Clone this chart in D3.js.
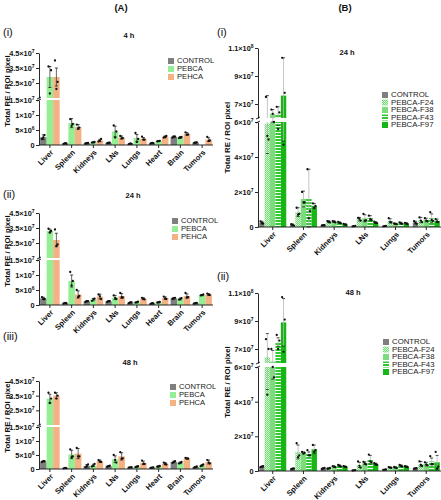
<!DOCTYPE html>
<html><head><meta charset="utf-8">
<script src="https://cdn.jsdelivr.net/npm/d3@7"></script>
<style>
body{margin:0;background:#fff;}
svg{display:block;font-family:"Liberation Sans",Arial,sans-serif;}
</style></head>
<body><svg id="chart" width="441" height="500"></svg>
<script>
// ---------------- DATA (values in units of 1e6) ----------------
const catsA = ["Liver","Spleen","Kidneys","LNs","Lungs","Heart","Brain","Tumors"];
const seriesA = ["CONTROL","PEBCA","PEHCA"];
const catsB = ["Liver","Spleen","Kidneys","LNs","Lungs","Tumors"];
const seriesB = ["CONTROL","PEBCA-F24","PEBCA-F38","PEBCA-F43","PEBCA-F97"];
const ticksA_low = [0,5,10,15];
const ticksA_up = [25,35,45];
const ticksB_low = [0,20,40,60];
const ticksB_up = [70,90,110];

// A (i) 4 h
const a4_CONTROL = [2.6,0.5,0.6,0.7,0.4,0.6,2.7,0.8];
const a4_PEBCA   = [29,7.3,0.9,4.5,2.3,1.3,2.5,0];
const a4_PEHCA   = [29,6.0,1.5,2.5,2.1,2.7,3.7,1.8];
const a4_CONTROL_sd = [0.8,0.1,0.2,0.2,0.1,0.1,0.3,0.2];
const a4_PEBCA_sd   = [7,1.5,0.2,1.8,1.2,0.2,0.3,0];
const a4_PEHCA_sd   = [6,0.8,0.4,0.5,0.4,0.3,0.4,0.6];
const a4_CONTROL_pts = [[2.0,3.3,2.5],[0.4,0.5,0.6],[0.5,0.7,0.6],[0.6,0.8,0.7],[0.3,0.4,0.5],[0.5,0.6,0.7],[2.5,2.8,2.8],[0.7,0.9,0.8]];
const a4_PEBCA_pts   = [[36,33.5,18],[8.6,7.0,6.4],[0.8,1.0,0.9],[6.5,4.5,2.5],[4.0,2.0,1.0],[1.2,1.4,1.3],[2.3,2.7,2.5],[]];
const a4_PEHCA_pts   = [[40,25.7,21],[6.8,5.8,5.5],[1.2,2.0,1.4],[3.0,2.3,2.2],[2.8,1.8,1.8],[2.5,3.0,2.7],[4.2,3.5,3.4],[2.7,1.5,1.3]];

// A (ii) 24 h
const a24_CONTROL = [2.2,0.6,1.2,1.2,0.8,0.5,2.2,0.6];
const a24_PEBCA   = [33,8.0,1.8,2.5,0.9,0.9,2.0,3.3];
const a24_PEHCA   = [27,3.5,2.8,3.0,2.1,2.3,3.0,3.5];
const a24_CONTROL_sd = [0.4,0.1,0.2,0.2,0.2,0.1,0.3,0.1];
const a24_PEBCA_sd   = [1.2,2.0,0.4,0.7,0.2,0.2,0.3,0.2];
const a24_PEHCA_sd   = [4.5,1.2,0.8,0.8,0.3,0.4,0.7,0.3];
const a24_CONTROL_pts = [[2.6,2.0,2.0],[0.5,0.6,0.7],[1.0,1.3,1.3],[1.0,1.3,1.3],[0.6,0.9,0.9],[0.4,0.5,0.6],[2.0,2.4,2.3],[0.5,0.7,0.6]];
const a24_PEBCA_pts   = [[34.5,33,32],[11,8,6.5],[1.4,2.1,1.9],[3.2,2.0,2.3],[0.8,1.1,0.9],[0.8,1.0,0.9],[1.8,2.3,2.0],[3.2,3.5,3.3]];
const a24_PEHCA_pts   = [[34,24,23],[5,3,2.6],[3.5,2.0,2.9],[4.0,2.5,2.6],[2.4,1.9,2.0],[2.8,2.0,2.2],[4.0,2.6,2.5],[3.8,3.3,3.4]];

// A (iii) 48 h
const a48_CONTROL = [2.7,0.3,1.1,1.0,0.6,0.5,2.5,0.7];
const a48_PEBCA   = [33,5.2,1.3,3.5,0.8,0.9,2.2,1.3];
const a48_PEHCA   = [35,5.5,2.8,4.5,2.2,1.9,3.8,2.5];
const a48_CONTROL_sd = [0.2,0.1,0.5,0.2,0.1,0.1,0.3,0.2];
const a48_PEBCA_sd   = [3,1.5,0.4,1.2,0.2,0.2,0.3,0.3];
const a48_PEHCA_sd   = [2,1.8,0.4,1.3,0.6,0.4,0.2,0.7];
const a48_CONTROL_pts = [[2.5,2.8,2.8],[0.2,0.3,0.4],[0.6,1.6,1.1],[0.8,1.2,1.0],[0.5,0.7,0.6],[0.4,0.6,0.5],[2.2,2.8,2.5],[0.5,0.9,0.7]];
const a48_PEBCA_pts   = [[37,33,30],[7,4.5,4.2],[0.9,1.8,1.2],[5.0,2.3,3.2],[0.7,1.0,0.8],[0.8,1.1,0.9],[2.0,2.5,2.2],[1.0,1.6,1.3]];
const a48_PEHCA_pts   = [[37,35,33],[7.5,4.5,4.5],[3.2,2.5,2.7],[6.0,3.8,3.7],[3.0,1.8,1.8],[2.3,1.6,1.8],[4.0,3.7,3.7],[3.2,2.0,2.3]];

// B (i) 24 h
const b24_CONTROL = [2.5,1.2,1.0,0.5,0.5,2.5];
const b24_F24 = [59,8.5,3.0,4.5,3.5,4.0];
const b24_F38 = [63,16,3.0,5.0,1.8,4.0];
const b24_F43 = [63,16,2.5,5.0,2.2,5.0];
const b24_F97 = [76,12,1.5,2.5,2.0,3.5];
const b24_CONTROL_sd = [0.8,0.5,0.2,0.1,0.1,0.8];
const b24_F24_sd = [17,2.5,0.5,1.0,1.2,1.5];
const b24_F38_sd = [3,4.5,0.4,2.0,0.3,1.0];
const b24_F43_sd = [5,17,0.4,1.5,0.5,2.5];
const b24_F97_sd = [27,1.5,0.3,0.5,0.4,1.0];
const b24_CONTROL_pts = [[3.2,2.0,2.3],[1.6,0.8,1.2],[0.9,1.1,1.0],[0.4,0.6,0.5],[0.4,0.6,0.5],[3.3,1.8,2.4]];
const b24_F24_pts = [[75,50,52],[11,7.5,7],[3.4,2.6,3.0],[5.2,3.6,4.7],[5.0,2.6,2.9],[5.5,2.8,3.7]];
const b24_F38_pts = [[66,60,63],[20,14,14],[3.3,2.6,3.1],[7.5,3.8,3.7],[2.0,1.6,1.8],[5.0,3.3,3.7]];
const b24_F43_pts = [[68,64,56],[33,9,5],[2.9,2.2,2.4],[6.5,4.0,4.5],[2.7,1.8,2.1],[8.5,3.5,4.0]];
const b24_F97_pts = [[103,78,47],[13.5,12,11],[1.8,1.3,1.4],[3.0,2.2,2.3],[2.4,1.7,1.9],[4.5,2.8,3.2]];

// B (ii) 48 h
const b48_CONTROL = [2.5,1.3,1.5,0.4,0.8,1.5];
const b48_F24 = [64,11,1.5,3.5,2.0,4.0];
const b48_F38 = [61,10.5,2.5,4.5,2.0,4.0];
const b48_F43 = [75,10,3.0,6.5,3.0,5.5];
const b48_F97 = [89,12.5,2.5,4.0,2.5,5.0];
const b48_CONTROL_sd = [0.3,0.2,0.3,0.1,0.1,0.2];
const b48_F24_sd = [17,4,0.3,1.5,0.3,1.5];
const b48_F38_sd = [8,0.5,0.3,0.8,0.3,1.0];
const b48_F43_sd = [3,1.0,0.5,2.5,0.5,2.0];
const b48_F97_sd = [17,2.5,0.3,0.5,0.3,4.0];
const b48_CONTROL_pts = [[2.2,2.8,2.5],[1.1,1.5,1.3],[1.2,1.8,1.5],[0.3,0.5,0.4],[0.7,0.9,0.8],[1.3,1.7,1.5]];
const b48_F24_pts = [[77,70,44],[16,9,8],[1.3,1.8,1.4],[5.5,2.0,3.0],[2.2,1.8,2.0],[5.5,3.0,3.5]];
const b48_F38_pts = [[70,54,60],[11,10.5,10],[2.8,2.2,2.5],[5.3,3.8,4.4],[2.3,1.8,1.9],[5.0,3.2,3.8]];
const b48_F43_pts = [[80,76,70],[12,9,9],[3.5,2.6,2.9],[9.5,5.0,5.5],[3.5,2.6,2.9],[8.5,4.0,4.0]];
const b48_F97_pts = [[107,91,68],[15,12,11],[2.8,2.2,2.5],[4.5,3.6,3.9],[2.8,2.2,2.5],[11,2.5,1.5]];

// ---------------- DRAWING ----------------
const svg = d3.select("#chart");
const defs = svg.append("defs");
// checker pattern (F24)
const p1 = defs.append("pattern").attr("id","chk").attr("patternUnits","userSpaceOnUse").attr("width",2).attr("height",2);
p1.append("rect").attr("width",2).attr("height",2).attr("fill","#6fdc6f");
p1.append("rect").attr("width",1).attr("height",1).attr("fill","#e8fbe8");
p1.append("rect").attr("x",1).attr("y",1).attr("width",1).attr("height",1).attr("fill","#c8f3c8");
// stripe pattern (F43)
const p2 = defs.append("pattern").attr("id","strp").attr("patternUnits","userSpaceOnUse").attr("width",4).attr("height",3);
p2.append("rect").attr("width",4).attr("height",3).attr("fill","#2fc82f");
p2.append("rect").attr("y",0).attr("width",4).attr("height",1).attr("fill","#ffffff");

const fillsA = ["#7f7f7f","#94ef94","#f4b183"];
const fillsB = ["#7f7f7f","url(#chk)","#7cdb7c","url(#strp)","#16b616"];
const legendFillsB = ["#7f7f7f","url(#chk)","#7cdb7c","url(#strp)","#16b616"];

function fmtTicks(g){
  g.selectAll(".tick text").each(function(d){
    const t = d3.select(this); t.text(null);
    if (d === 0) { t.text("0"); return; }
    const v = d * 1e6;
    const e = Math.floor(Math.log10(v) + 1e-9);
    const m = +(v / Math.pow(10, e)).toFixed(2);
    t.append("tspan").text(m + "×10");
    t.append("tspan").attr("dy", -3.2).attr("font-size", 5).text(e);
  });
}

function panel(o){
  const g = svg.append("g");
  const x = d3.scaleBand().domain(o.cats).range(o.xr).paddingInner(o.pi).paddingOuter(o.po);
  const xs = d3.scaleBand().domain(o.series).range([0, x.bandwidth()]);
  const yL = d3.scaleLinear().domain([0, o.brk]).range([o.y0, o.yb1]);
  const yU = d3.scaleLinear().domain([o.brk, o.top]).range([o.yb2, o.yT]);
  const yv = v => v <= o.brk ? yL(v) : yU(v);

  const data = [];
  o.series.forEach((s, si) => o.cats.forEach((c, ci) => {
    data.push({s, si, c, v: o.means[si][ci], sd: o.sds[si][ci], pts: o.pts[si][ci]});
  }));
  const bars = data.filter(d => d.v > 0);

  // lower bar parts
  g.append("g").selectAll("rect").data(bars).join("rect")
    .attr("x", d => x(d.c) + xs(d.s)).attr("width", xs.bandwidth())
    .attr("y", d => yL(Math.min(d.v, o.brk)))
    .attr("height", d => o.y0 - yL(Math.min(d.v, o.brk)))
    .attr("fill", d => o.fills[d.si]);
  // upper bar parts
  g.append("g").selectAll("rect").data(bars.filter(d => d.v > o.brk)).join("rect")
    .attr("x", d => x(d.c) + xs(d.s)).attr("width", xs.bandwidth())
    .attr("y", d => yU(d.v)).attr("height", d => o.yb2 - yU(d.v))
    .attr("fill", d => o.fills[d.si]);

  // error bars
  const eg = g.append("g");
  bars.filter(d => d.sd > 0).forEach(d => {
    const cx = x(d.c) + xs(d.s) + xs.bandwidth()/2;
    const lo = Math.max(0, d.v - d.sd), hi = d.v + d.sd;
    const segs = (lo < o.brk && hi > o.brk) ? [[yv(lo), yL(o.brk)], [yU(o.brk), yv(hi)]] : [[yv(lo), yv(hi)]];
    segs.forEach(sg => eg.append("line").attr("x1", cx).attr("x2", cx).attr("y1", sg[0]).attr("y2", sg[1])
      .attr("stroke", o.errColor).attr("stroke-width", 0.8));
    [lo, hi].forEach(v => eg.append("line").attr("x1", cx - 1.5).attr("x2", cx + 1.5)
      .attr("y1", yv(v)).attr("y2", yv(v)).attr("stroke", "#222").attr("stroke-width", 0.8));
  });

  // points
  const pg = g.append("g");
  const offs = [-1.4, 1.2, 0, -0.6];
  data.forEach(d => (d.pts || []).forEach((p, i) => {
    const cx = x(d.c) + xs(d.s) + xs.bandwidth()/2 + offs[i % offs.length];
    pg.append("circle").attr("cx", cx).attr("cy", yv(p)).attr("r", 1.15).attr("fill", "#111");
  }));

  // axes
  const axL = g.append("g").attr("transform", `translate(${o.xr[0]},0)`)
    .call(d3.axisLeft(yL).tickValues(o.ticksL).tickSize(3).tickSizeOuter(0).tickPadding(1.5));
  const axU = g.append("g").attr("transform", `translate(${o.xr[0]},0)`)
    .call(d3.axisLeft(yU).tickValues(o.ticksU).tickSize(3).tickSizeOuter(0).tickPadding(1.5));
  [axL, axU].forEach(a => {
    a.selectAll("text").attr("font-size", 7.3).attr("font-weight", "bold").attr("fill", "#111").attr("font-family", "Liberation Sans, Arial, sans-serif");
    a.selectAll("line,path").attr("stroke", "#111").attr("stroke-width", 0.9);
    fmtTicks(a);
  });
  // break marks on axis
  [o.yb1, o.yb2].forEach(yy => g.append("line").attr("x1", o.xr[0] - 2).attr("x2", o.xr[0] + 2)
    .attr("y1", yy + 1).attr("y2", yy - 1).attr("stroke", "#111").attr("stroke-width", 0.9));

  const ax = g.append("g").attr("transform", `translate(0,${o.y0})`)
    .call(d3.axisBottom(x).tickSize(3).tickSizeOuter(0).tickPadding(2));
  ax.select(".domain").attr("d", `M${o.xr[0]},0H${o.xr[1]}`);
  ax.selectAll("line,path").attr("stroke", "#111").attr("stroke-width", 0.9);
  ax.selectAll("text").attr("font-size", 7.6).attr("font-weight", "bold").attr("fill", "#111")
    .attr("font-family", "Liberation Sans, Arial, sans-serif")
    .attr("text-anchor", "end").attr("dy", "0.35em")
    .attr("transform", "translate(2,6) rotate(-45)").attr("y", 0).attr("x", 0);

  // y title
  g.append("text").attr("transform", `translate(${o.titleX},${(o.y0 + o.yT)/2 - o.titleShift}) rotate(-90)`)
    .attr("text-anchor", "middle").attr("dominant-baseline", "middle")
    .attr("font-size", 7.8).attr("font-weight", "bold").attr("fill", "#111").text("Total RE / ROI pixel");

  // panel heading
  g.append("text").attr("x", o.hx).attr("y", o.hy).attr("text-anchor", "middle").attr("dominant-baseline", "middle")
    .attr("font-size", 7.5).attr("font-weight", "bold").attr("fill", "#111").text(o.heading);
  g.append("text").attr("x", o.rx).attr("y", o.ry).attr("dominant-baseline", "middle")
    .attr("font-size", 11).attr("fill", "#111").text(o.roman);

  // legend
  const lg = g.append("g").attr("transform", `translate(${o.lx},${o.ly})`);
  o.series.forEach((s, i) => {
    lg.append("rect").attr("x", 0).attr("y", i * o.lstep - 3).attr("width", 6).attr("height", 6).attr("fill", o.legendFills[i]);
    lg.append("text").attr("x", 9).attr("y", i * o.lstep).attr("dominant-baseline", "middle")
      .attr("font-size", o.lfs).attr("fill", "#222").text(s);
  });
}

const common = {cats: catsA, series: seriesA, fills: fillsA, legendFills: fillsA, xr: [39, 213], pi: 0.1, po: 0.05,
  brk: 15, top: 45, ticksL: ticksA_low, ticksU: ticksA_up, errColor: "#444", titleX: 8, titleShift: 8, lstep: 8, lfs: 7.6};

panel(Object.assign({}, common, {
  means: [a4_CONTROL, a4_PEBCA, a4_PEHCA], sds: [a4_CONTROL_sd, a4_PEBCA_sd, a4_PEHCA_sd], pts: [a4_CONTROL_pts, a4_PEBCA_pts, a4_PEHCA_pts],
  y0: 145, yb1: 100, yb2: 98, yT: 53, heading: "4 h", hx: 129, hy: 36, roman: "(i)", rx: 3, ry: 33, lx: 168, ly: 61}));
panel(Object.assign({}, common, {
  means: [a24_CONTROL, a24_PEBCA, a24_PEHCA], sds: [a24_CONTROL_sd, a24_PEBCA_sd, a24_PEHCA_sd], pts: [a24_CONTROL_pts, a24_PEBCA_pts, a24_PEHCA_pts],
  y0: 305, yb1: 260, yb2: 258, yT: 213, heading: "24 h", hx: 133, hy: 196, roman: "(ii)", rx: 3, ry: 195, lx: 172, ly: 221}));
panel(Object.assign({}, common, {
  means: [a48_CONTROL, a48_PEBCA, a48_PEHCA], sds: [a48_CONTROL_sd, a48_PEBCA_sd, a48_PEHCA_sd], pts: [a48_CONTROL_pts, a48_PEBCA_pts, a48_PEHCA_pts],
  y0: 469, yb1: 427, yb2: 425, yT: 381, heading: "48 h", hx: 130, hy: 363, roman: "(iii)", rx: 3, ry: 337, lx: 170, ly: 387}));

const commonB = {cats: catsB, series: seriesB, fills: fillsB, legendFills: legendFillsB, xr: [258, 441], pi: 0.12, po: 0.04,
  brk: 60, top: 110, ticksL: ticksB_low, ticksU: ticksB_up, errColor: "#b5b5b5", titleX: 228, titleShift: 0, lstep: 7.5, lfs: 7.8};
panel(Object.assign({}, commonB, {
  means: [b24_CONTROL, b24_F24, b24_F38, b24_F43, b24_F97], sds: [b24_CONTROL_sd, b24_F24_sd, b24_F38_sd, b24_F43_sd, b24_F97_sd],
  pts: [b24_CONTROL_pts, b24_F24_pts, b24_F38_pts, b24_F43_pts, b24_F97_pts],
  y0: 227, yb1: 122, yb2: 118, yT: 48, heading: "24 h", hx: 347, hy: 53, roman: "(i)", rx: 217, ry: 33, lx: 382, ly: 95}));
panel(Object.assign({}, commonB, {
  means: [b48_CONTROL, b48_F24, b48_F38, b48_F43, b48_F97], sds: [b48_CONTROL_sd, b48_F24_sd, b48_F38_sd, b48_F43_sd, b48_F97_sd],
  pts: [b48_CONTROL_pts, b48_F24_pts, b48_F38_pts, b48_F43_pts, b48_F97_pts],
  y0: 471, yb1: 367, yb2: 363, yT: 293, heading: "48 h", hx: 353, hy: 293, roman: "(ii)", rx: 217, ry: 277, lx: 383, ly: 342}));

// section labels
svg.append("text").attr("x", 121).attr("y", 8).attr("text-anchor", "middle").attr("dominant-baseline", "middle")
  .attr("font-size", 9.5).attr("font-weight", "bold").attr("fill", "#111").text("(A)");
svg.append("text").attr("x", 345).attr("y", 8).attr("text-anchor", "middle").attr("dominant-baseline", "middle")
  .attr("font-size", 9.5).attr("font-weight", "bold").attr("fill", "#111").text("(B)");
</script></body></html>
